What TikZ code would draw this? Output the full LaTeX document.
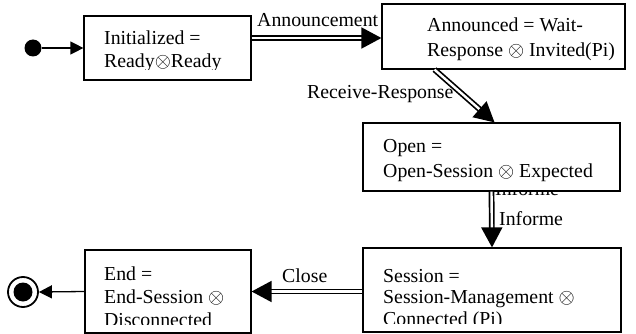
\documentclass[tikz,border=0pt]{standalone}
\usepackage{fontspec}
\setmainfont{Liberation Serif}
\newcommand\otsym{\ensuremath{\otimes}}
\usetikzlibrary{arrows.meta}
\begin{document}
\begin{tikzpicture}[x=1pt,y=-1pt,
  state/.style={draw, line width=1.2pt, fill=white, inner sep=0pt, rectangle},
  txt/.style={anchor=base west, inner sep=0pt, font=\fontsize{19.8}{24}\selectfont},
  trans/.style={draw, line width=1.7pt, double, double distance=2.4pt,
    -{Triangle[length=20pt,width=21pt]}},
  plainarrow/.style={draw, line width=1.3pt, -{Triangle[length=13pt,width=13pt]}},
]
\useasboundingbox (0,0) rectangle (636,334);

% label partly hidden below the Open state
\node[txt] (informehidden) at (495,195) {Informe};

% states
\node[state, minimum width=167pt, minimum height=64pt] (init) at (167.5,48) {};
\node[state, minimum width=243pt, minimum height=65pt] (ann) at (503.5,36.5) {};
\node[state, minimum width=257pt, minimum height=68pt] (open) at (491.5,157) {};
\node[state, minimum width=258pt, minimum height=84pt] (session) at (492,290) {};
\node[state, minimum width=166pt, minimum height=83pt] (end) at (168,291.5) {};

% initial and final pseudo-states
\node[circle, fill, inner sep=0pt, minimum size=17pt] (start) at (33,48) {};
\node[circle, draw, line width=1.8pt, inner sep=0pt, minimum size=30pt] (final) at (23,292) {};
\node[circle, fill, inner sep=0pt, minimum size=19pt] (finaldot) at (final.center) {};

% state texts
\begin{scope}
  \clip (84,16) rectangle (251,70);
  \node[txt] (t1a) at (104,45) {Initialized =};
  \node[txt] (t1b) at (104,68) {Ready\otsym Ready};
\end{scope}
\node[txt] (t2a) at (427,31.5) {Announced = Wait-};
\node[txt] (t2b) at (427,56.5) {Response \otsym\ Invited(Pi)};
\node[txt] (t3a) at (383,152) {Open =};
\node[txt] (t3b) at (383,177) {Open-Session \otsym\ Expected};
\begin{scope}
  \clip (363,248) rectangle (621,323);
  \node[txt] (t4a) at (383,282) {Session =};
  \node[txt] (t4b) at (383,303) {Session-Management \otsym};
  \node[txt] (t4c) at (383,325) {Connected (Pi)};
\end{scope}
\begin{scope}
  \clip (85,250) rectangle (251,324);
  \node[txt] (t5a) at (104,280) {End =};
  \node[txt] (t5b) at (104,303) {End-Session \otsym};
  \node[txt] (t5c) at (104,326) {Disconnected};
\end{scope}

% transitions
\draw[plainarrow] (start) -- (init.west);
\draw[trans] (init.east |- 0,38) -- (ann.west |- 0,38);
\draw[trans] ([xshift=-69pt]ann.south) -- ([xshift=3pt]open.north);
\draw[trans] (open.south) -- (session.north);
\draw[trans] (session.west |- end.east) -- (end.east);
\draw[plainarrow] (end.west) -- (final.east);

% transition labels
\node[txt] (lann) at (257,27) {Announcement};
\node[txt] (lrec) at (307,98.5) {Receive-Response};
\node[txt] (linf) at (499,225) {Informe};
\node[txt] (lclose) at (282,282) {Close};
\end{tikzpicture}
\end{document}
